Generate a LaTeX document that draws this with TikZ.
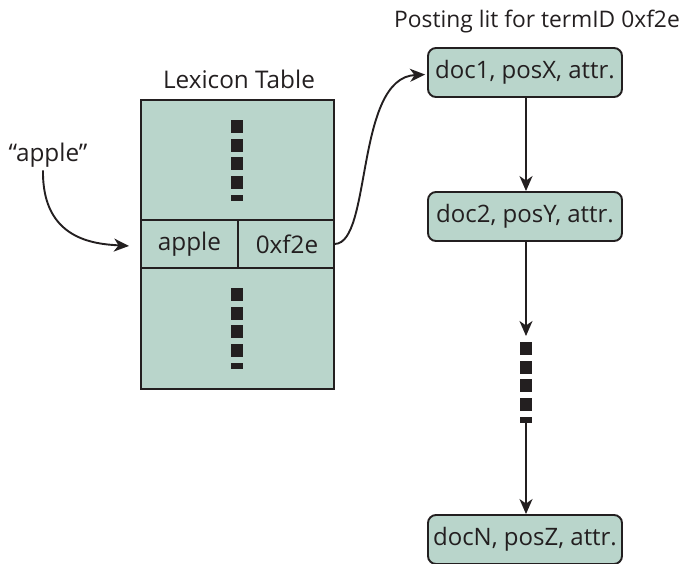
\documentclass[tikz,border=0pt]{standalone}
\usepackage{fontspec}
\setmainfont{Open Sans}
\usetikzlibrary{arrows.meta}
\definecolor{tealfill}{HTML}{B9D5CB}
\definecolor{ink}{HTML}{231F20}
\tikzset{
  lbl/.style={font=\fontsize{24.3}{27}\selectfont, text=ink, inner sep=0pt},
  cellbox/.style={draw=ink, line width=1.9pt, fill=tealfill, inner sep=0pt},
  postbox/.style={draw=ink, line width=1.9pt, fill=tealfill, rounded corners=8pt,
     minimum width=194pt, minimum height=49pt, inner sep=0pt, font=\fontsize{24}{27}\selectfont, text=ink},
  conn/.style={draw=ink, line width=1.9pt, -{Stealth[length=15pt,width=13pt,inset=4.5pt]}},
  pics/vdots/.style={code={
    \fill[ink] (-6,0) rectangle (6,13);
    \fill[ink] (-6,18.5) rectangle (6,31.5);
    \fill[ink] (-6,37) rectangle (6,50);
    \fill[ink] (-6,55.5) rectangle (6,68.5);
    \fill[ink] (-6,75) rectangle (6,81);
  }}
}
\begin{document}
\begin{tikzpicture}[x=1pt,y=-1pt]
\useasboundingbox (0,0) rectangle (680,563);
% lexicon table
\node[cellbox, minimum width=193pt, minimum height=289pt, anchor=north west] (tbl) at (140,99) {};
\node[cellbox, minimum width=97pt, minimum height=48pt, anchor=north west] (applecell) at (140,219) {};
\node[cellbox, minimum width=96pt, minimum height=48pt, anchor=north west] (idcell) at (237,219) {};
\node[lbl] at (applecell.center) {apple};
\node[lbl] at ([xshift=1pt]idcell.center) {0xf2e};
\pic at (237,120) {vdots};
\pic at (237,288) {vdots};
\node[lbl] (lextitle) at (239,79) {Lexicon Table};
\node[lbl] (appletxt) at (48,155) {“apple”};
% posting list
\node[lbl, font=\fontsize{22.8}{26}\selectfont] (posttitle) at (537,22) {Posting lit for termID 0xf2e};
\node[postbox] (d1) at (525,72.5) {doc1, posX, attr.};
\node[postbox] (d2) at (525,216.5) {doc2, posY, attr.};
\node[postbox] (dN) at (525,539.5) {docN, posZ, attr.};
\coordinate (dtop) at (526,336);
\coordinate (dbot) at (526,423);
\pic at (526,342) {vdots};
\draw[conn] (d1.south -| dtop) -- (d2.north -| dtop);
\draw[conn] (d2.south -| dtop) -- (dtop);
\draw[conn] (dbot) -- (dN.north -| dbot);
% curved connectors
\draw[conn] ([xshift=-5pt,yshift=-3pt]appletxt.south) .. controls (42,240) and (95,244) .. ([xshift=-11pt,yshift=-2pt]applecell.west);
\draw[conn] (idcell.east) .. controls (372,243) and (355,78) .. ([xshift=-2pt,yshift=-2pt]d1.west);
\end{tikzpicture}
\end{document}
